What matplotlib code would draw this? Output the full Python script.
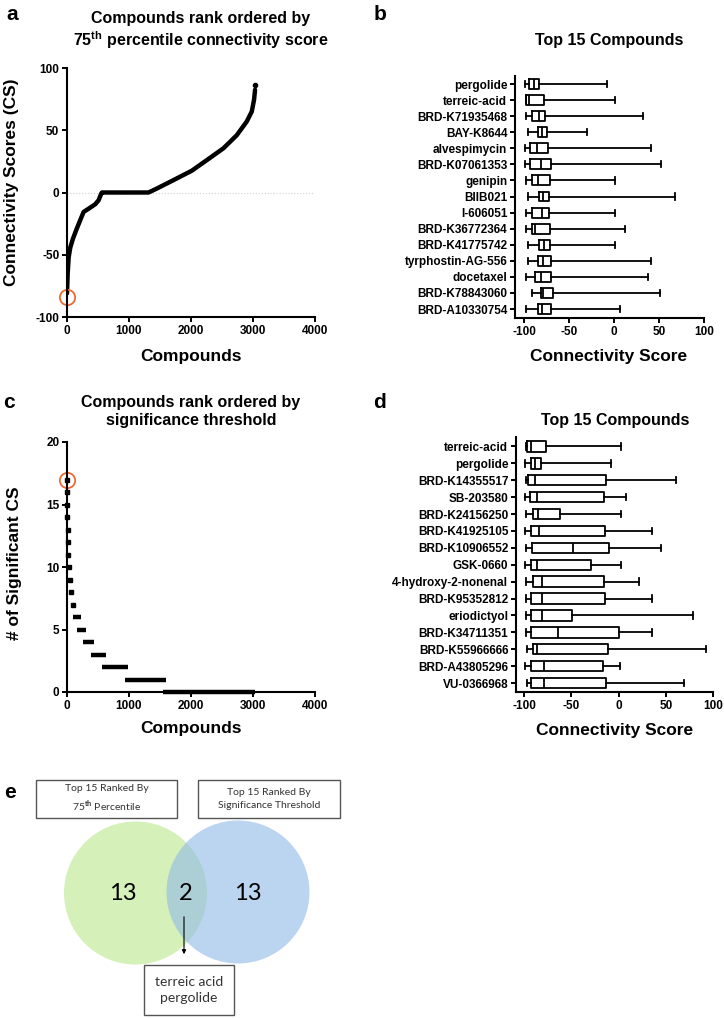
import matplotlib
matplotlib.use("Agg")
import matplotlib.pyplot as plt
from matplotlib.patches import Circle, Rectangle

plt.rcParams["font.family"] = ["Liberation Sans", "DejaVu Sans"]
plt.rcParams["font.weight"] = "bold"
plt.rcParams["axes.unicode_minus"] = False
plt.rcParams["mathtext.fontset"] = "custom"
plt.rcParams["mathtext.rm"] = "Lato"
plt.rcParams["mathtext.bf"] = "Liberation Sans:bold"

W, H = 724, 1018

# a: compounds rank ordered by 75th percentile CS
rank_a = [0, 11, 27, 54, 97, 150, 215, 268, 349, 456, 510, 553, 564,
          1315, 1450, 1664, 2013, 2255, 2523, 2738, 2899, 2980, 3017, 3033]
score_a = [-81, -65, -52, -44, -37, -30, -22, -15.6, -13, -9.4, -6.2, -0.8, 0,
           0, 3.2, 8.6, 17.5, 26, 35.5, 46, 57, 65, 74.5, 82.5]
top_a = (3033, 86)
mark_a = (0, -84)

# b: top 15 by 75th percentile
names_b = ["pergolide", "terreic-acid", "BRD-K71935468", "BAY-K8644", "alvespimycin",
           "BRD-K07061353", "genipin", "BIIB021", "I-606051", "BRD-K36772364",
           "BRD-K41775742", "tyrphostin-AG-556", "docetaxel", "BRD-K78843060",
           "BRD-A10330754"]
lo_b = [-99, -98, -98, -96, -99, -99, -98, -96, -98, -98, -96, -96, -98, -91, -98]
q1_b = [-94.4, -98, -91, -85, -94, -94, -91, -84, -91, -91, -84, -85, -88, -82, -85]
med_b = [-89, -95, -84, -80, -86, -81, -85, -79, -80, -88, -78, -79, -82, -79, -80]
q3_b = [-84, -78, -76.5, -75, -73.5, -70, -71.6, -72, -72, -71, -71, -70.5, -70.5, -68, -70.5]
hi_b = [-8, 1, 32, -30, 41, 52, 1, 68, 1, 12.5, 1, 41, 37.6, 50.6, 6]

# c: number of significant CS per compound
pt_rank_c = [2, 4, 6, 8, 12, 16, 20, 30, 48, 65, 91]
pt_count_c = [17, 16, 15, 14, 13, 12, 11, 10, 9, 8, 7]
run_count_c = [6, 5, 4, 3, 2, 1, 0]
run_start_c = [91, 167, 253, 382, 570, 935, 1545]
run_end_c = [220, 306, 435, 629, 979, 1592, 3030]
mark_c = (0, 17)

# d: top 15 by significance threshold
names_d = ["terreic-acid", "pergolide", "BRD-K14355517", "SB-203580", "BRD-K24156250",
           "BRD-K41925105", "BRD-K10906552", "GSK-0660", "4-hydroxy-2-nonenal",
           "BRD-K95352812", "eriodictyol", "BRD-K34711351", "BRD-K55966666",
           "BRD-A43805296", "VU-0366968"]
lo_d = [-97.5, -98.6, -97.5, -98.6, -97.5, -98.6, -97.9, -98.6, -97.9, -97.9, -97.9, -97.9, -97.1, -98.9, -97.1]
q1_d = [-97, -93.2, -95.7, -93.9, -90.7, -93.2, -91.4, -93.2, -90.4, -92.5, -92.5, -92.2, -91.1, -92.5, -92.5]
med_d = [-93.2, -89, -89, -86, -85.4, -84.3, -48.7, -86, -80.7, -80.7, -80.7, -63.6, -86.4, -79.3, -79.3]
q3_d = [-77.2, -82.6, -13, -15.8, -61.8, -14.8, -10.2, -29.1, -15.8, -14.8, -49.7, 0.5, -10.9, -16.9, -13.4]
hi_d = [2.3, -7.7, 61, 8.4, 2.3, 35.1, 45.1, 2.3, 21.9, 35.8, 79, 35.1, 92.5, 1.6, 69.7]

# e: venn of the two top-15 lists
venn_counts = [13, 2, 13]
venn_sets = ["Top 15 Ranked By\n75$^{\\rm th}$ Percentile",
             "Top 15 Ranked By\nSignificance Threshold"]
shared = ["terreic acid", "pergolide"]

ORANGE = "#ef6a33"


def rect(l, t, r, b):
    return [l / W, 1 - b / H, (r - l) / W, (b - t) / H]


def ftext(x, y, s, **kw):
    fig.text(x / W, 1 - y / H, s, ha=kw.pop("ha", "center"), va=kw.pop("va", "center"), **kw)


def style(ax):
    for side in ["top", "right"]:
        ax.spines[side].set_visible(False)
    for side in ["left", "bottom"]:
        ax.spines[side].set_linewidth(1.5)
    ax.tick_params(direction="out", length=3.5, width=1.4, labelsize=8.5, pad=2)
    for lab in ax.get_xticklabels() + ax.get_yticklabels():
        lab.set_fontweight("bold")


def boxes(ax, names, lo, q1, med, q3, hi):
    stats = [dict(label=n, whislo=a, q1=b, med=c, q3=d, whishi=e, fliers=[])
             for n, a, b, c, d, e in zip(names, lo, q1, med, q3, hi)]
    line = dict(color="black", linewidth=1.3)
    ax.bxp(stats, positions=range(len(names)), orientation="horizontal",
           widths=0.62, capwidths=0.38, showfliers=False,
           boxprops=line, whiskerprops=line, capprops=line, medianprops=line)
    ax.set_yticks(range(len(names)))
    ax.set_yticklabels(names, fontsize=9.3, fontweight="bold")
    ax.set_xticks([-100, -50, 0, 50, 100])
    style(ax)


fig = plt.figure(figsize=(W / 100, H / 100), dpi=100)

# panel a
ax = fig.add_axes(rect(67, 68, 315, 317))
ax.axhline(0, color="#d0d0d0", lw=0.8, ls=":")
ax.plot(rank_a, score_a, color="black", lw=3.2, solid_capstyle="round")
ax.plot(*top_a, "o", color="black", ms=3)
ax.plot(*mark_a, "o", mfc="none", mec=ORANGE, mew=1.3, ms=11, clip_on=False)
ax.set_xlim(0, 4000)
ax.set_ylim(-100, 100)
ax.set_xticks([0, 1000, 2000, 3000, 4000])
ax.set_yticks([-100, -50, 0, 50, 100])
style(ax)

# panel b
ax = fig.add_axes(rect(515, 76, 704, 318))
boxes(ax, names_b, lo_b, q1_b, med_b, q3_b, hi_b)
ax.set_xlim(-110.4, 100)
ax.set_ylim(14.56, -0.5)

# panel c
ax = fig.add_axes(rect(67, 442, 315, 692))
ax.hlines(run_count_c, run_start_c, run_end_c, color="black", lw=3.2, clip_on=False)
ax.plot(pt_rank_c, pt_count_c, "s", color="black", ms=2.6, clip_on=False)
ax.plot(*mark_c, "o", mfc="none", mec=ORANGE, mew=1.3, ms=11, clip_on=False)
ax.set_xlim(0, 4000)
ax.set_ylim(0, 20)
ax.set_xticks([0, 1000, 2000, 3000, 4000])
ax.set_yticks([0, 5, 10, 15, 20])
style(ax)

# panel d
ax = fig.add_axes(rect(516, 437, 713, 692))
boxes(ax, names_d, lo_d, q1_d, med_d, q3_d, hi_d)
ax.set_xlim(-108.6, 100)
ax.set_ylim(14.53, -0.56)

# titles, axis labels, panel letters
ftext(201, 19, "Compounds rank ordered by", fontsize=11.5)
ftext(201, 40, "75$^{\\bf th}$ percentile connectivity score", fontsize=11.5)
ftext(12, 182, "Connectivity Scores (CS)", fontsize=12.5, rotation=90)
ftext(191, 357, "Compounds", fontsize=12.5)
ftext(609, 40, "Top 15 Compounds", fontsize=11.5)
ftext(609, 357, "Connectivity Score", fontsize=12.5)
ftext(191, 402, "Compounds rank ordered by", fontsize=11.5)
ftext(191, 421, "significance threshold", fontsize=11.5)
ftext(15, 563, "# of Significant CS", fontsize=12.5, rotation=90)
ftext(191, 729, "Compounds", fontsize=12.5)
ftext(615, 420, "Top 15 Compounds", fontsize=11.5)
ftext(615, 730, "Connectivity Score", fontsize=12.5)
for letter, x, y in [("a", 12, 14), ("b", 380, 14), ("c", 9, 402), ("d", 379, 402), ("e", 10, 793)]:
    ftext(x, y, letter, fontsize=15)

# panel e: venn diagram
ev = fig.add_axes([0, 0, 1, 1], zorder=-1)
ev.set_xlim(0, W)
ev.set_ylim(H, 0)
ev.axis("off")
ev.add_patch(Circle((135.5, 893), 71.5, color="#d5f0b8", lw=0))
ev.add_patch(Circle((238, 892), 71.5, color="#8fb9e9", alpha=0.6, lw=0))
efont = dict(family=["Lato", "DejaVu Sans"], fontweight="normal", color="#333333")
for (x0, x1), label in zip([(36, 177), (198, 340)], venn_sets):
    ev.add_patch(Rectangle((x0, 780), x1 - x0, 38, fill=False, ec="#555555", lw=1))
    ev.text((x0 + x1) / 2, 799, label, ha="center", va="center", fontsize=7.5,
            linespacing=1.5, **efont)
for x, n in zip([123, 186, 248], venn_counts):
    ev.text(x, 894, str(n), ha="center", va="center", fontsize=17,
            family=["Lato", "DejaVu Sans"], fontweight="normal", color="black")
ev.annotate("", xy=(184, 957), xytext=(184, 914),
            arrowprops=dict(arrowstyle="-|>", color="black", lw=0.8, mutation_scale=6))
ev.add_patch(Rectangle((144, 965), 90, 50, fill=False, ec="#555555", lw=1))
ev.text(189, 990, "\n".join(shared), ha="center", va="center", fontsize=10,
        linespacing=1.45, **efont)

fig.savefig("out.png", dpi=100)
